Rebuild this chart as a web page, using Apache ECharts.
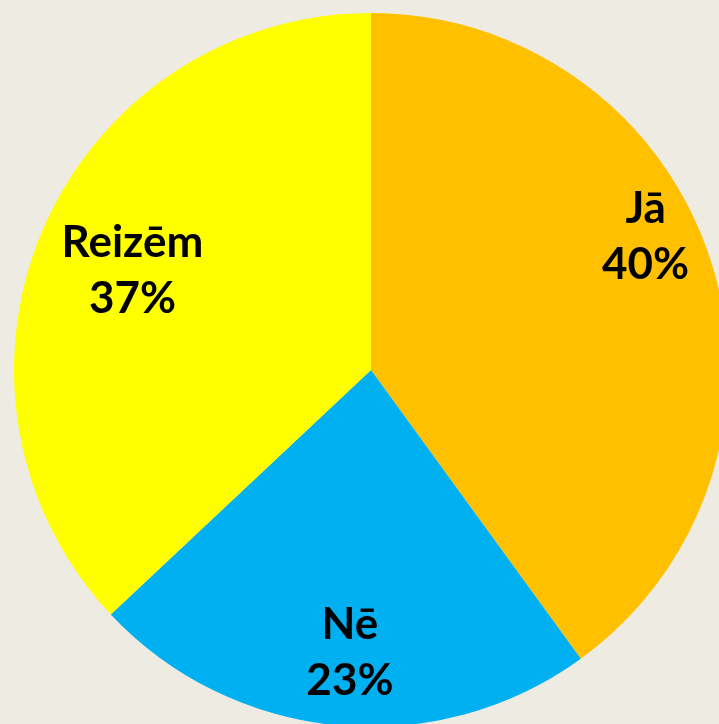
<!DOCTYPE html>
<html>
<head>
<meta charset="utf-8">
<script src="https://cdn.jsdelivr.net/npm/echarts@6/dist/echarts.min.js"></script>
<style>
  html, body { margin: 0; padding: 0; background: #eeebe3; }
  #chart { width: 719px; height: 724px; }
</style>
</head>
<body>
<div id="chart"></div>
<script>
const categories = ['Jā', 'Nē', 'Reizēm']
const values = [40, 23, 37]
const colors = ['#ffc000', '#00b0f0', '#ffff00']
// nudges so the labels sit where the original has them
const labelOffsets = [[102, -77], [-4, 102], [-72, -27]]

const chart = echarts.init(document.getElementById('chart'))
chart.setOption({
  backgroundColor: '#eeebe3',
  animation: false,
  series: [
    {
      type: 'pie',
      center: [371, 370],
      radius: 357,
      startAngle: 90,
      clockwise: true,
      label: {
        show: true,
        position: 'inside',
        formatter: '{b}\n{c}%',
        fontFamily: 'Lato',
        fontWeight: 'bold',
        fontSize: 44,
        lineHeight: 56,
        color: '#000'
      },
      labelLine: { show: false },
      itemStyle: { borderWidth: 0 },
      data: categories.map((name, i) => ({
        name: name,
        value: values[i],
        itemStyle: { color: colors[i] },
        label: { offset: labelOffsets[i] }
      }))
    }
  ]
})
</script>
</body>
</html>
